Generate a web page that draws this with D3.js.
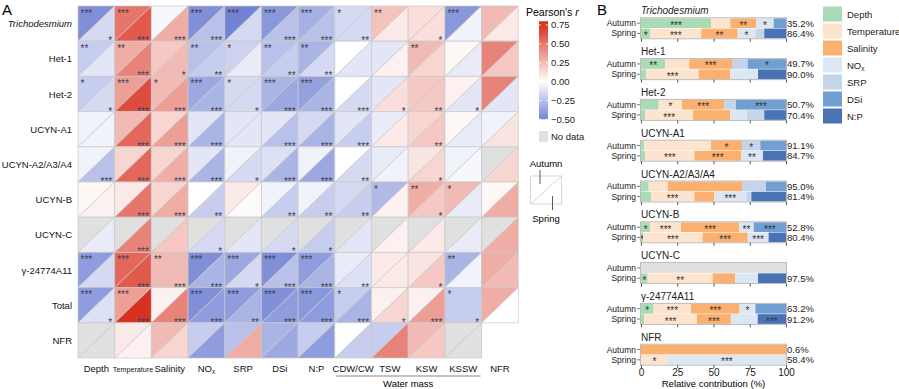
<!DOCTYPE html>
<html>
<head>
<meta charset="utf-8">
<script src="https://cdn.jsdelivr.net/npm/d3@7"></script>
<style>
  body { margin: 0; background: #fff; }
  svg { font-family: "Liberation Sans", Arial, sans-serif; }
</style>
</head>
<body>
<div id="chart"></div>
<script>
// ---- panel A data ----
var cols = ["Depth", "Temperature", "Salinity", "NOx", "SRP", "DSi", "N:P", "CDW/CW", "TSW", "KSW", "KSSW", "NFR"];
var rows = ["Trichodesmium", "Het-1", "Het-2", "UCYN-A1", "UCYN-A2/A3/A4", "UCYN-B", "UCYN-C", "γ-24774A11", "Total", "NFR"];

// Pearson's r, null = no data
var rAutumn = [
    [-0.45, 0.50, -0.03, -0.45, -0.50, -0.42, -0.32, -0.15, 0.22, 0.12, -0.42, 0.25],
    [-0.20, 0.30, 0.20, -0.25, -0.18, -0.25, -0.30, 0.00, -0.10, 0.25, 0.03, 0.45],
    [-0.20, 0.35, 0.25, -0.35, -0.15, -0.30, -0.38, 0.00, -0.10, 0.20, 0.05, 0.45],
    [-0.05, 0.25, 0.15, -0.10, -0.10, -0.10, -0.15, -0.10, -0.08, 0.15, 0.03, -0.05],
    [-0.05, 0.15, 0.15, -0.10, -0.05, -0.12, -0.05, 0.00, -0.08, 0.10, -0.05, null],
    [0.03, 0.08, 0.15, 0.00, 0.08, -0.05, -0.05, -0.15, -0.28, 0.30, 0.25, 0.03],
    [null, null, null, null, null, null, null, null, null, null, null, null],
    [-0.40, 0.55, 0.25, -0.45, -0.35, -0.45, -0.40, -0.08, 0.08, 0.10, -0.30, 0.30],
    [-0.40, 0.35, 0.05, -0.45, -0.40, -0.45, -0.42, -0.20, 0.05, 0.05, -0.20, 0.30],
    [null, 0.08, 0.25, -0.20, -0.25, -0.30, -0.20, 0.00, -0.20, 0.25, null, "skip"]
];
var rSpring = [
    [-0.15, 0.60, 0.30, -0.25, -0.15, -0.25, -0.25, -0.15, 0.08, 0.12, -0.05, 0.08],
    [-0.10, 0.45, 0.25, -0.20, -0.08, -0.20, -0.15, -0.10, 0.05, 0.15, -0.08, 0.20],
    [-0.15, 0.65, 0.35, -0.30, -0.15, -0.35, -0.30, -0.15, 0.12, 0.20, -0.10, -0.10],
    [-0.05, 0.55, 0.35, -0.30, -0.10, -0.25, -0.30, -0.20, 0.08, 0.20, -0.08, 0.10],
    [-0.25, 0.55, 0.30, -0.30, -0.15, -0.30, -0.35, -0.15, -0.05, 0.15, -0.03, 0.15],
    [0.05, 0.50, 0.30, -0.20, 0.02, -0.20, -0.20, -0.20, 0.05, 0.20, -0.08, 0.30],
    [-0.08, 0.45, 0.20, -0.15, -0.10, -0.15, -0.20, -0.10, 0.05, 0.08, -0.08, 0.30],
    [-0.15, 0.60, 0.25, -0.30, -0.15, -0.25, -0.30, -0.12, 0.08, 0.20, -0.05, 0.25],
    [-0.12, 0.78, 0.45, -0.40, -0.30, -0.40, -0.40, -0.30, 0.15, 0.35, -0.20, 0.00],
    [null, 0.05, 0.15, -0.40, 0.30, -0.35, -0.40, -0.20, 0.45, 0.20, null, "skip"]
];
var sigAutumn = [
    ["***", "***", "", "***", "***", "***", "***", "*", "**", "", "***", ""],
    ["**", "**", "", "**", "*", "**", "**", "", "", "**", "", ""],
    ["*", "***", "*", "***", "*", "***", "***", "", "", "", "", ""],
    ["", "", "", "", "", "", "", "", "", "", "", ""],
    ["", "", "", "", "", "", "", "", "", "", "", ""],
    ["", "", "", "", "", "", "", "", "*", "**", "*", ""],
    ["", "", "", "", "", "", "", "", "", "", "", ""],
    ["***", "***", "**", "***", "***", "***", "***", "", "", "", "**", ""],
    ["***", "***", "", "***", "***", "***", "***", "*", "", "", "*", ""],
    ["", "", "", "", "", "", "", "", "", "", "", ""]
];
var sigSpring = [
    ["*", "***", "***", "***", "", "***", "***", "**", "", "*", "", ""],
    ["", "***", "*", "**", "", "**", "**", "", "", "", "", ""],
    ["*", "***", "***", "***", "*", "***", "***", "***", "*", "**", "*", ""],
    ["", "***", "***", "***", "", "***", "***", "***", "", "**", "", ""],
    ["***", "***", "***", "***", "*", "***", "***", "**", "", "*", "", ""],
    ["", "***", "***", "**", "", "**", "**", "**", "", "*", "", ""],
    ["", "***", "", "*", "", "*", "*", "", "", "", "", ""],
    ["", "***", "***", "***", "*", "***", "***", "**", "", "*", "", ""],
    ["*", "***", "***", "***", "**", "***", "***", "***", "*", "***", "*", ""],
    ["", "", "", "", "", "", "", "", "", "", "", ""]
];
var legendTicks = [0.75, 0.50, 0.25, 0.00, -0.25, -0.50];

// ---- panel B data ----
var groups = ["Trichodesmium", "Het-1", "Het-2", "UCYN-A1", "UCYN-A2/A3/A4", "UCYN-B", "UCYN-C", "γ-24774A11", "NFR"];
var seasons = ["Autumn", "Spring"];
var predictors = ["Depth", "Temperature", "Salinity", "NOx", "SRP", "DSi", "N:P"];
var predColors = ["#a9dcb6", "#fde4cf", "#fbb06f", "#dde6f3", "#c4d4ea", "#729fd2", "#4a73b6"];
var contribAutumn = [
    [48.3, 13.3, 17.9, 12.0, 0, 8.5, 0],
    [16.8, 16.5, 29.5, 0, 10.8, 26.4, 0],
    [12.2, 16.1, 29.2, 0, 8.0, 34.5, 0],
    [2.3, 46.0, 21.4, 0, 12.6, 17.7, 0],
    [5.3, 13.1, 51.3, 0, 16.5, 13.8, 0],
    [6.4, 21.2, 40.2, 9.9, 0, 22.3, 0],
    null,
    [8.7, 25.8, 33.5, 10.9, 0, 21.1, 0],
    [0, 0, 100, 0, 0, 0, 0]
];
var contribSpring = [
    [6.4, 35.2, 25.1, 12.2, 6.1, 0, 15.0],
    [3.7, 36.1, 21.8, 19.1, 0, 0, 19.3],
    [3.0, 32.9, 25.7, 11.5, 11.9, 0, 15.0],
    [3.0, 33.8, 32.2, 15.1, 0, 0, 15.9],
    [6.9, 29.9, 13.8, 22.0, 3.5, 0, 23.9],
    [1.4, 41.1, 31.1, 14.4, 0, 0, 12.0],
    [4.6, 44.8, 15.6, 15.7, 0, 0, 19.3],
    [2.3, 36.3, 23.4, 18.5, 0, 0, 19.5],
    [0, 18.4, 0, 81.6, 0, 0, 0]
];
var starsAutumn = [
    ["***", "", "**", "*", "", "", ""],
    ["**", "", "***", "", "", "*", ""],
    ["", "*", "***", "", "", "***", ""],
    ["", "", "*", "", "*", "", ""],
    ["", "", "", "", "", "", ""],
    ["*", "***", "***", "**", "", "***", ""],
    null,
    ["*", "***", "***", "*", "", "", ""],
    ["", "", "", "", "", "", ""]
];
var starsSpring = [
    ["*", "***", "**", "*", "", "", ""],
    ["", "***", "", "", "", "", ""],
    ["", "***", "", "", "", "", ""],
    ["", "***", "***", "**", "", "", ""],
    ["", "***", "", "***", "", "", ""],
    ["*", "***", "***", "***", "", "", ""],
    ["*", "**", "", "", "", "", ""],
    ["", "***", "***", "", "", "", "***"],
    ["", "*", "", "***", "", "", ""]
];
var varAutumn = [35.2, 49.7, 50.7, 91.1, 95.0, 52.8, null, 63.2, 0.6];
var varSpring = [86.4, 90.0, 70.4, 84.7, 81.4, 80.4, 97.5, 91.2, 58.4];
var xTicks = [0, 25, 50, 75, 100];

var svg = d3.select("#chart")
    .append("svg")
    .attr("width", 899)
    .attr("height", 389);

var noData = "#e0e0e0";
var color = d3.scaleLinear()
    .domain([-0.5, 0, 0.75])
    .range(["#7383d4", "#ffffff", "#d9311f"])
    .clamp(true);

// ================= panel A =================
svg.append("text").attr("x", 2).attr("y", 15).attr("font-size", 15).text("A");

var x = d3.scaleBand().domain(cols).range([78, 518.3]);
var y = d3.scaleBand().domain(rows).range([6, 358]);
var w = x.bandwidth(), h = y.bandwidth();

var cells = svg.append("g");
rows.forEach(function (row, i) {
    cols.forEach(function (col, j) {
        var va = rAutumn[i][j], vs = rSpring[i][j];
        if (va === "skip") return;
        var x0 = x(col), y0 = y(row);
        cells.append("path")
            .attr("d", "M" + x0 + "," + y0 + "L" + (x0 + w) + "," + y0 + "L" + x0 + "," + (y0 + h) + "Z")
            .attr("fill", va === null ? noData : color(va))
            .attr("stroke", "#c9c9c9")
            .attr("stroke-width", 0.7);
        cells.append("path")
            .attr("d", "M" + (x0 + w) + "," + y0 + "L" + (x0 + w) + "," + (y0 + h) + "L" + x0 + "," + (y0 + h) + "Z")
            .attr("fill", vs === null ? noData : color(vs))
            .attr("stroke", "#c9c9c9")
            .attr("stroke-width", 0.7);
        if (sigAutumn[i][j]) {
            cells.append("text")
                .attr("x", x0 + 2.5)
                .attr("y", y0 + 10.5)
                .attr("font-size", 10)
                .attr("fill", "#3a3f55")
                .text(sigAutumn[i][j]);
        }
        if (sigSpring[i][j]) {
            cells.append("text")
                .attr("x", x0 + w - 2.5)
                .attr("y", y0 + h + 3)
                .attr("text-anchor", "end")
                .attr("font-size", 10)
                .attr("fill", "#3a3f55")
                .text(sigSpring[i][j]);
        }
    });
});

// row labels
rows.forEach(function (row) {
    svg.append("text")
        .attr("x", 72)
        .attr("y", y(row) + h / 2 + 3.5)
        .attr("text-anchor", "end")
        .attr("font-size", 9.5)
        .attr("font-style", row === "Trichodesmium" ? "italic" : "normal")
        .attr("fill", "#111")
        .text(row);
});

// column labels
cols.forEach(function (col) {
    var t = svg.append("text")
        .attr("x", x(col) + w / 2)
        .attr("y", 372)
        .attr("text-anchor", "middle")
        .attr("font-size", col === "Temperature" ? 7.2 : 9.5)
        .attr("fill", "#111");
    if (col === "NOx") {
        t.append("tspan").text("NO");
        t.append("tspan").attr("font-size", 6.5).attr("dy", 2).text("x");
    } else {
        t.text(col);
    }
});
svg.append("line")
    .attr("x1", x("CDW/CW") + 1).attr("x2", x("KSSW") + w - 1)
    .attr("y1", 376).attr("y2", 376)
    .attr("stroke", "#888").attr("stroke-width", 1);
svg.append("text")
    .attr("x", (x("CDW/CW") + x("KSSW") + w) / 2)
    .attr("y", 387)
    .attr("text-anchor", "middle")
    .attr("font-size", 9.5)
    .text("Water mass");

// colour legend
var lg = svg.append("g");
var ly = d3.scaleLinear().domain([-0.5, 0.75]).range([119.3, 25]);
var grad = svg.append("defs").append("linearGradient")
    .attr("id", "rgrad").attr("x1", 0).attr("x2", 0).attr("y1", 1).attr("y2", 0);
d3.range(-0.5, 0.8001, 0.05).forEach(function (v) {
    grad.append("stop")
        .attr("offset", (v + 0.5) / 1.3)
        .attr("stop-color", color(v));
});
lg.append("text").attr("x", 526).attr("y", 16).attr("font-size", 10.5)
    .text("Pearson's ").append("tspan").attr("font-style", "italic").text("r");
lg.append("rect")
    .attr("x", 539).attr("y", ly(0.8))
    .attr("width", 9).attr("height", ly(-0.5) - ly(0.8))
    .attr("fill", "url(#rgrad)");
legendTicks.forEach(function (v) {
    lg.append("line").attr("x1", 539).attr("x2", 541.5).attr("y1", ly(v)).attr("y2", ly(v))
        .attr("stroke", "#fff").attr("stroke-width", 0.8);
    lg.append("line").attr("x1", 545.5).attr("x2", 548).attr("y1", ly(v)).attr("y2", ly(v))
        .attr("stroke", "#fff").attr("stroke-width", 0.8);
    lg.append("text")
        .attr("x", 551).attr("y", ly(v) + 3.3)
        .attr("font-size", 9.5)
        .attr("fill", "#222")
        .text(v < 0 ? "\u2212" + d3.format(".2f")(-v) : d3.format(".2f")(v));
});
lg.append("rect").attr("x", 539).attr("y", 131).attr("width", 9).attr("height", 11).attr("fill", noData);
lg.append("text").attr("x", 551).attr("y", 140).attr("font-size", 9.5).attr("fill", "#222").text("No data");

// autumn / spring key
lg.append("text").attr("x", 546).attr("y", 167).attr("text-anchor", "middle").attr("font-size", 9.5).text("Autumn");
lg.append("rect").attr("x", 530.5).attr("y", 176).attr("width", 31).attr("height", 28)
    .attr("fill", "#fff").attr("stroke", "#ccc").attr("stroke-width", 0.8);
lg.append("line").attr("x1", 530.5).attr("y1", 204).attr("x2", 561.5).attr("y2", 176)
    .attr("stroke", "#ccc").attr("stroke-width", 0.8);
lg.append("line").attr("x1", 540).attr("x2", 540).attr("y1", 170).attr("y2", 184)
    .attr("stroke", "#333").attr("stroke-width", 0.8);
lg.append("line").attr("x1", 552.5).attr("x2", 552.5).attr("y1", 196).attr("y2", 210)
    .attr("stroke", "#333").attr("stroke-width", 0.8);
lg.append("text").attr("x", 546).attr("y", 222).attr("text-anchor", "middle").attr("font-size", 9.5).text("Spring");

// ================= panel B =================
svg.append("text").attr("x", 597).attr("y", 15).attr("font-size", 15).text("B");

var bx = d3.scaleLinear().domain([0, 100]).range([641, 786]);
var gy = d3.scaleBand().domain(groups).range([18.3, 18.3 + 40.8 * groups.length]);
var sy = d3.scaleBand().domain(seasons).range([0, 20]).paddingInner(0.05);

groups.forEach(function (g, gi) {
    var top = gy(g);
    var gg = svg.append("g").attr("transform", "translate(0," + top + ")");
    gg.append("text")
        .attr("x", 641).attr("y", -4)
        .attr("font-size", 10)
        .attr("font-style", g === "Trichodesmium" ? "italic" : "normal")
        .attr("fill", "#222")
        .text(g);

    seasons.forEach(function (s) {
        var vals = s === "Autumn" ? contribAutumn[gi] : contribSpring[gi];
        var st = s === "Autumn" ? starsAutumn[gi] : starsSpring[gi];
        var pv = s === "Autumn" ? varAutumn[gi] : varSpring[gi];
        var yy = sy(s), bh = sy.bandwidth();
        if (vals === null) {
            gg.append("rect").attr("x", bx(0)).attr("y", yy).attr("width", bx(100) - bx(0)).attr("height", bh)
                .attr("fill", noData);
        } else {
            var cum = 0;
            vals.forEach(function (v, k) {
                if (v > 0) {
                    gg.append("rect")
                        .attr("x", bx(cum)).attr("y", yy)
                        .attr("width", bx(cum + v) - bx(cum)).attr("height", bh)
                        .attr("fill", predColors[k]);
                    if (st[k]) {
                        gg.append("text")
                            .attr("x", bx(cum + v / 2)).attr("y", yy + bh / 2 + 5.5)
                            .attr("text-anchor", "middle")
                            .attr("font-size", 10)
                            .attr("fill", "#333")
                            .text(st[k]);
                    }
                }
                cum += v;
            });
        }
        if (pv !== null) {
            gg.append("text")
                .attr("x", 787).attr("y", yy + bh / 2 + 3.5)
                .attr("font-size", 9.5)
                .attr("fill", "#222")
                .text(d3.format(".1f")(pv) + "%");
        }
        gg.append("line").attr("x1", 637).attr("x2", 640).attr("y1", yy + bh / 2).attr("y2", yy + bh / 2)
            .attr("stroke", "#555").attr("stroke-width", 0.8);
        gg.append("text")
            .attr("x", 636).attr("y", yy + bh / 2 + 3)
            .attr("text-anchor", "end")
            .attr("font-size", 8.5)
            .attr("fill", "#222")
            .text(s);
    });

    gg.append("rect")
        .attr("x", bx(0) - 0.5).attr("y", -0.5)
        .attr("width", bx(100) - bx(0) + 1).attr("height", 21)
        .attr("fill", "none").attr("stroke", "#bbb").attr("stroke-width", 1);

    var ax = d3.axisBottom(bx).tickValues(xTicks).tickSize(3).tickPadding(0.5)
        .tickFormat(gi === groups.length - 1 ? d3.format("d") : "");
    var axg = gg.append("g").attr("transform", "translate(0,20.5)").call(ax);
    axg.select(".domain").remove();
    axg.selectAll("line").attr("stroke", "#555");
    axg.selectAll("text").attr("font-size", 10).attr("fill", "#222")
        .attr("font-family", "Liberation Sans, Arial, sans-serif");
});

svg.append("text")
    .attr("x", (bx(0) + bx(100)) / 2).attr("y", 387)
    .attr("text-anchor", "middle").attr("font-size", 9.5)
    .text("Relative contribution (%)");

// predictor legend
predictors.forEach(function (p, k) {
    svg.append("rect").attr("x", 823).attr("y", 6.5 + k * 17).attr("width", 19).attr("height", 15)
        .attr("fill", predColors[k]);
    var t = svg.append("text").attr("x", 847).attr("y", 17.5 + k * 17).attr("font-size", 9.5).attr("fill", "#222");
    if (p === "NOx") {
        t.append("tspan").text("NO");
        t.append("tspan").attr("font-size", 6.5).attr("dy", 2).text("x");
    } else {
        t.text(p);
    }
});
</script>
</body>
</html>
